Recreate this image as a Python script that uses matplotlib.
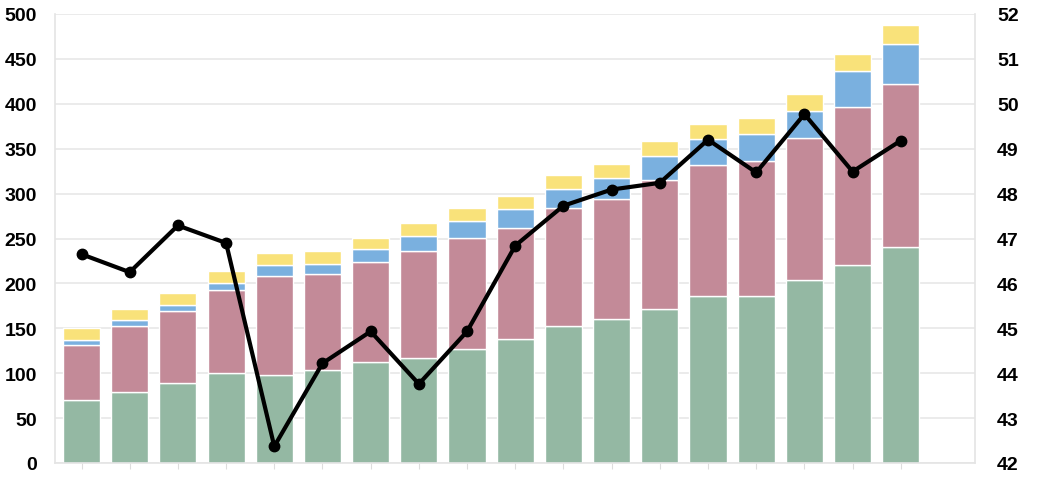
import matplotlib
matplotlib.use("Agg")
import matplotlib.pyplot as plt
from matplotlib import font_manager
import numpy as np

names = {f.name for f in font_manager.fontManager.ttflist}
label_family = 'Liberation Sans Narrow' if 'Liberation Sans Narrow' in names else 'Liberation Sans'
label_size = 15 if label_family == 'Liberation Sans Narrow' else 14
plt.rcParams['font.family'] = [label_family, 'DejaVu Sans']

# Stacked bar segment values (left axis)
green = [70, 79, 89, 100, 98, 104, 113, 117, 127, 138, 153, 160, 172, 186, 186, 204, 221, 240]
red = [61, 74, 80, 93, 110, 106, 111, 119, 124, 124, 131, 134, 143, 146, 150, 158, 175, 182]
blue = [6, 6, 7, 8, 12, 12, 14, 17, 19, 21, 21, 23, 27, 29, 30, 30, 40, 45]
yellow = [13, 13, 13, 13, 14, 14, 13, 14, 14, 14, 16, 16, 17, 17, 18, 19, 20, 21]
# Line values (right axis)
line_vals = [46.65, 46.25, 47.29, 46.9, 42.37, 44.22, 44.93, 43.76, 44.93, 46.84,
             47.73, 48.09, 48.24, 49.2, 48.47, 49.77, 48.49, 49.18]

left_ticks = [0, 50, 100, 150, 200, 250, 300, 350, 400, 450, 500]
right_ticks = [42, 43, 44, 45, 46, 47, 48, 49, 50, 51, 52]

c_green = '#94b8a3'
c_red = '#c38a98'
c_blue = '#7ab0df'
c_yellow = '#f9e27a'

fig = plt.figure(figsize=(10.48, 4.81), dpi=100)
ax = fig.add_axes([55 / 1048, 1 - 464 / 481, (975 - 55) / 1048, (464 - 15) / 481])

x = np.arange(len(green))
w = 0.77
g = np.array(green, float)
r = np.array(red, float)
b = np.array(blue, float)
yv = np.array(yellow, float)
ax.bar(x, g, w, color=c_green, edgecolor='white', linewidth=1, zorder=2)
ax.bar(x, r, w, bottom=g, color=c_red, edgecolor='white', linewidth=1, zorder=2)
ax.bar(x, b, w, bottom=g + r, color=c_blue, edgecolor='white', linewidth=1, zorder=2)
ax.bar(x, yv, w, bottom=g + r + b, color=c_yellow, edgecolor='white', linewidth=1, zorder=2)

ax.set_ylim(0, 500)
ax.set_yticks(left_ticks)
ax.set_xlim(-0.55, 18.54)
ax.set_xticks(x)
ax.set_xticklabels([''] * len(x))
ax.grid(axis='y', color='#e8e8e8', linewidth=1.2, zorder=0)
ax.spines['top'].set_visible(False)
for s in ['left', 'right', 'bottom']:
    ax.spines[s].set_color('#e4e4e4')
    ax.spines[s].set_linewidth(1.2)
ax.tick_params(axis='x', length=4, color='#dddddd', direction='out')
ax.tick_params(axis='y', length=0, pad=13, labelsize=label_size)
for lab in ax.get_yticklabels():
    lab.set_fontweight('bold')

ax2 = ax.twinx()
ax2.plot(x, line_vals, color='black', linewidth=3, marker='o', markersize=7.5, zorder=5)
ax2.set_ylim(42, 52)
ax2.set_yticks(right_ticks)
ax2.tick_params(axis='y', length=0, pad=16, labelsize=label_size)
for lab in ax2.get_yticklabels():
    lab.set_fontweight('bold')
for s in ['top', 'left', 'right', 'bottom']:
    ax2.spines[s].set_visible(False)

fig.savefig('out.png', dpi=100, facecolor='white')
